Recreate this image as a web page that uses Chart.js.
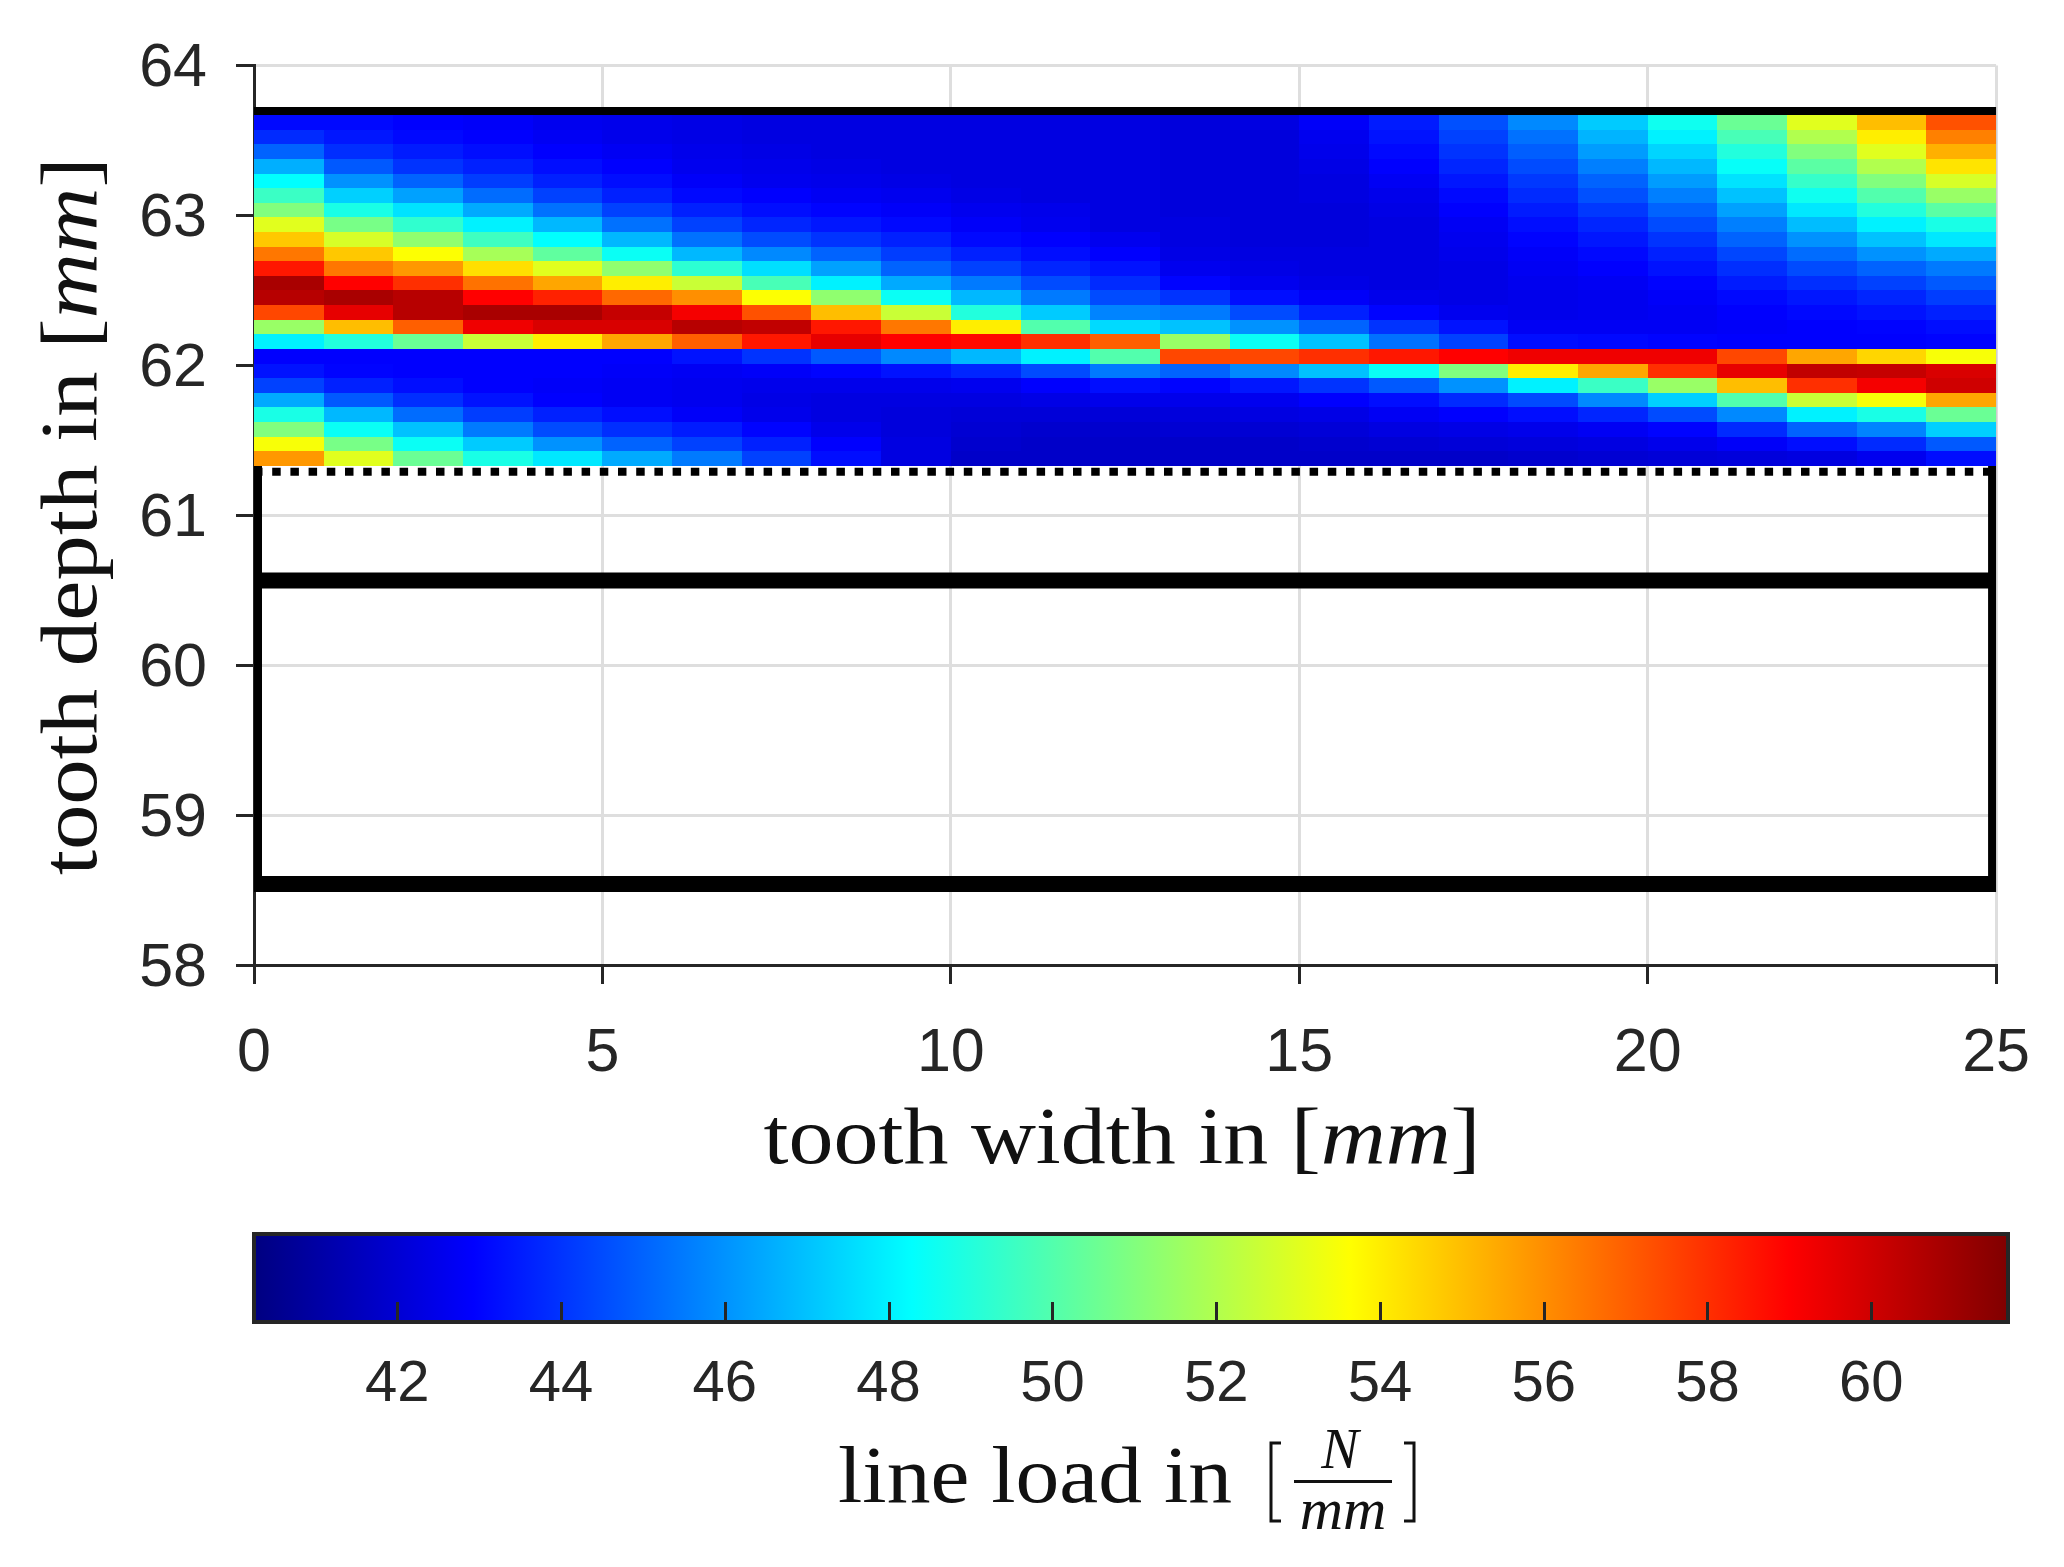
<!DOCTYPE html>
<html><head><meta charset="utf-8">
<script src="https://cdn.jsdelivr.net/npm/chart.js@4.4.1/dist/chart.umd.min.js"></script>
<style>
html,body{margin:0;padding:0;background:#fff;}
#wrap{position:relative;width:2064px;height:1567px;background:#fff;}
#main{position:absolute;left:0;top:0;}
#cbar{position:absolute;left:0;top:1190px;}
</style></head><body>
<div id="wrap">
<canvas id="main" width="2064" height="1190"></canvas>
<canvas id="cbar" width="2064" height="377"></canvas>
</div>
<script>
// ---------- data ----------
const widthCenters = [0.5,1.5,2.5,3.5,4.5,5.5,6.5,7.5,8.5,9.5,10.5,11.5,12.5,13.5,14.5,15.5,16.5,17.5,18.5,19.5,20.5,21.5,22.5,23.5,24.5];
const depthCenters = [63.621,63.524,63.426,63.329,63.231,63.134,63.036,62.939,62.841,62.744,62.646,62.549,62.451,62.354,62.256,62.159,62.061,61.964,61.866,61.769,61.671,61.574,61.476,61.379];
// line load in N/mm, one row per depthCenters entry (top to bottom), one value per widthCenters entry
const lineLoad = [
 [43.1,43.1,42.9,42.8,42.6,42.5,42.4,42.3,42.3,42.3,42.3,42.3,42.3,42.2,42.3,42.8,43.5,44.6,45.8,47.2,48.6,50.5,53.0,55.0,57.3],
 [43.8,43.4,43.1,42.9,42.7,42.5,42.4,42.3,42.3,42.3,42.3,42.3,42.3,42.2,42.2,42.6,43.3,44.3,45.3,46.7,48.0,49.8,52.0,54.0,56.3],
 [45.0,43.9,43.5,43.2,42.9,42.7,42.5,42.4,42.3,42.3,42.3,42.3,42.3,42.2,42.2,42.5,43.1,44.0,44.9,46.2,47.4,49.0,51.0,53.0,55.3],
 [46.6,44.8,44.0,43.6,43.2,42.9,42.6,42.5,42.4,42.3,42.3,42.3,42.3,42.2,42.2,42.4,42.9,43.7,44.5,45.6,46.8,48.4,50.2,52.0,54.2],
 [48.3,46.0,45.0,44.2,43.6,43.2,42.8,42.6,42.5,42.4,42.3,42.3,42.3,42.2,42.2,42.3,42.7,43.4,44.1,45.0,46.2,47.7,49.4,51.0,52.8],
 [49.5,47.3,46.3,45.2,44.3,43.6,43.1,42.9,42.7,42.6,42.4,42.3,42.3,42.2,42.2,42.3,42.5,43.1,43.8,44.6,45.6,47.0,48.6,50.0,51.5],
 [51.0,48.8,47.7,46.5,45.3,44.3,43.6,43.2,43.0,42.8,42.6,42.5,42.3,42.2,42.2,42.2,42.4,42.9,43.5,44.1,45.0,46.3,47.8,49.0,50.2],
 [53.0,50.8,49.3,48.0,46.8,45.3,44.3,43.7,43.4,43.1,42.8,42.6,42.3,42.3,42.2,42.2,42.3,42.7,43.2,43.7,44.5,45.6,46.9,48.0,48.8],
 [54.8,52.8,51.3,49.6,48.3,46.8,45.3,44.5,44.0,43.6,43.1,42.9,42.6,42.3,42.2,42.2,42.3,42.6,43.0,43.4,44.0,45.0,46.0,47.0,47.8],
 [56.5,54.8,53.6,51.8,50.3,48.5,46.8,45.8,45.0,44.2,43.6,43.2,42.9,42.4,42.3,42.3,42.3,42.5,42.8,43.1,43.6,44.4,45.2,46.0,46.5],
 [58.5,56.5,55.8,54.3,53.0,51.3,49.2,47.6,46.3,45.0,44.3,43.7,43.3,42.6,42.4,42.3,42.3,42.4,42.7,42.9,43.3,43.9,44.5,45.0,45.5],
 [60.8,59.0,58.0,56.6,55.5,54.0,52.5,49.8,48.0,46.5,45.5,44.5,43.8,43.0,42.6,42.4,42.3,42.4,42.6,42.7,43.0,43.5,43.9,44.3,44.8],
 [60.5,60.8,60.5,59.0,58.3,56.8,56.0,53.6,51.3,48.5,46.8,45.5,44.5,44.0,43.2,42.8,42.5,42.4,42.5,42.6,42.8,43.1,43.4,43.7,44.2],
 [57.5,59.5,60.5,60.8,60.8,60.2,59.2,57.3,55.0,52.5,49.0,47.2,45.7,45.5,44.5,43.6,43.0,42.6,42.5,42.6,42.7,42.9,43.1,43.3,43.6],
 [51.5,55.0,57.0,59.3,59.8,59.8,60.5,60.3,58.5,56.5,54.0,50.0,47.5,47.0,46.0,45.0,44.0,43.3,42.7,42.7,42.7,42.8,42.9,43.0,43.2],
 [48.0,49.0,50.5,52.5,54.0,55.5,57.0,58.5,59.5,59.0,58.8,58.0,57.0,51.5,48.5,47.0,45.3,44.3,43.2,43.1,43.0,42.9,42.9,42.9,43.0],
 [42.9,42.9,42.9,42.9,42.9,42.9,43.3,44.0,44.8,45.8,46.8,48.0,50.0,57.5,57.5,58.0,58.5,59.0,59.3,59.3,59.3,57.5,55.5,54.5,53.5],
 [43.3,43.0,42.9,42.9,42.9,42.8,42.7,42.8,43.0,43.3,43.7,44.5,45.5,45.0,45.8,47.0,48.5,51.0,54.0,55.5,58.0,59.5,60.3,60.2,59.8],
 [44.3,43.6,43.2,42.9,42.8,42.7,42.6,42.5,42.5,42.5,42.6,42.9,43.2,43.0,43.4,44.0,44.8,46.0,48.0,49.5,51.5,55.0,58.0,59.2,60.0],
 [46.5,44.8,43.9,43.3,42.9,42.7,42.6,42.4,42.3,42.3,42.3,42.4,42.5,42.5,42.6,42.9,43.2,43.8,44.5,45.8,47.3,50.0,52.5,53.5,55.5],
 [48.8,46.8,45.2,44.2,43.6,43.2,42.8,42.5,42.3,42.2,42.1,42.1,42.1,42.2,42.3,42.4,42.7,42.9,43.2,43.7,44.5,45.8,48.0,48.8,50.5],
 [51.0,48.5,47.0,45.5,44.5,43.9,43.5,43.0,42.5,42.2,42.0,41.9,41.9,42.0,42.0,42.1,42.3,42.4,42.5,42.7,43.0,43.8,45.0,45.7,47.3],
 [53.5,50.8,48.5,47.2,46.0,45.0,44.3,43.6,42.9,42.3,41.9,41.8,41.8,41.8,41.8,41.9,42.0,42.1,42.2,42.3,42.5,42.8,43.2,43.8,44.8],
 [55.8,53.0,50.5,48.8,47.8,46.5,45.5,44.3,43.2,42.3,41.8,41.8,41.8,41.8,41.8,41.8,41.8,41.8,41.9,42.0,42.1,42.2,42.3,42.6,43.2]
];
const widthTicks = [0,5,10,15,20,25];
const depthTicks = [58,59,60,61,62,63,64];
const colorTicks = [42,44,46,48,50,52,54,56,58,60];
const colorRange = [40.25,61.67];
// tooth geometry lines (mm)
const outlineWidth = [0,25,25,0,0];
const outlineDepth = [63.67,63.67,58.54,58.54,63.67];
const rootWidth = [0,25];
const rootDepth = [60.565,60.565];
const limitWidth = [0,25];
const limitDepth = [61.29,61.29];

// ---------- helpers ----------
function jet(v){
  let t=(v-colorRange[0])/(colorRange[1]-colorRange[0]);
  t=Math.max(0,Math.min(1,t));
  const c=u=>Math.round(255*Math.max(0,Math.min(1,u)));
  const r=Math.min(4*t-1.5,-4*t+4.5), g=Math.min(4*t-0.5,-4*t+3.5), b=Math.min(4*t+0.5,-4*t+2.5);
  return 'rgb('+c(r)+','+c(g)+','+c(b)+')';
}
function edges(c){
  const e=[c[0]-(c[1]-c[0])/2];
  for(let i=1;i<c.length;i++) e.push((c[i-1]+c[i])/2);
  e.push(c[c.length-1]+(c[c.length-1]-c[c.length-2])/2);
  return e;
}
const SERIF='"Liberation Serif","Times New Roman",serif';
function drawRich(ctx,parts,size,cx,by,targetW){
  const fonts=parts.map(p=>(p.i?'italic ':'')+size+'px '+SERIF);
  let w=0;
  const ws=parts.map((p,k)=>{ctx.font=fonts[k];const m=ctx.measureText(p.t).width;w+=m;return m;});
  const s=targetW?targetW/w:1;
  ctx.save();
  ctx.translate(cx-w*s/2,by);ctx.scale(s,1);
  ctx.textAlign='left';ctx.textBaseline='alphabetic';
  let xx=0;
  parts.forEach((p,k)=>{ctx.font=fonts[k];ctx.fillText(p.t,xx,0);xx+=ws[k];});
  ctx.restore();
}

const heatmapPlugin={
  id:'heatmap',
  afterDatasetsDraw(chart){
    const {ctx,scales:{x,y}}=chart;
    const xe=edges(widthCenters), ye=edges(depthCenters);
    ctx.save();
    for(let r=0;r<depthCenters.length;r++){
      for(let c=0;c<widthCenters.length;c++){
        const xl=Math.round(x.getPixelForValue(xe[c])), xr=Math.round(x.getPixelForValue(xe[c+1]));
        const y0=Math.round(y.getPixelForValue(ye[r])), y1=Math.round(y.getPixelForValue(ye[r+1]));
        ctx.fillStyle=jet(lineLoad[r][c]);
        ctx.fillRect(xl,Math.min(y0,y1),xr-xl,Math.abs(y1-y0));
      }
    }
    ctx.restore();
  },
  afterDraw(chart){
    const {ctx,chartArea:a}=chart;
    ctx.save();
    ctx.fillStyle='#111';
    drawRich(ctx,[{t:'tooth width in '},{t:'['},{t:'mm',i:true},{t:']'}],80,(a.left+a.right)/2-3,a.bottom+198,717);
    ctx.translate(96,(a.top+a.bottom)/2+1);
    ctx.rotate(-Math.PI/2);
    drawRich(ctx,[{t:'tooth depth in '},{t:'['},{t:'mm',i:true},{t:']'}],80,0,0,718);
    ctx.restore();
  }
};

const SANS='"Liberation Sans",Arial,Helvetica,sans-serif';
new Chart(document.getElementById('main'),{
  type:'scatter',
  data:{datasets:[
    {label:'tooth outline',data:outlineWidth.map((v,i)=>({x:v,y:outlineDepth[i]})),showLine:true,borderColor:'#000',borderWidth:16,pointRadius:0,borderJoinStyle:'miter',borderCapStyle:'square',fill:false},
    {label:'root line',data:rootWidth.map((v,i)=>({x:v,y:rootDepth[i]})),showLine:true,borderColor:'#000',borderWidth:16,pointRadius:0,borderCapStyle:'butt',fill:false},
    {label:'active limit',data:limitWidth.map((v,i)=>({x:v,y:limitDepth[i]})),showLine:true,borderColor:'#000',borderWidth:8,pointRadius:0,borderDash:[8.5,9.7],borderCapStyle:'butt',fill:false}
  ]},
  options:{
    responsive:false,animation:false,events:[],
    layout:{padding:{left:0,right:56,top:52.6,bottom:105}},
    plugins:{legend:{display:false},tooltip:{enabled:false}},
    scales:{
      x:{type:'linear',position:'bottom',min:0,max:25,
        afterBuildTicks:s=>{s.ticks=widthTicks.map(v=>({value:v}));},
        afterFit:s=>{s.height=120;},
        ticks:{font:{family:SANS,size:61},color:'#262626',padding:34,maxRotation:0,autoSkip:false},
        grid:{color:'#dedede',lineWidth:3,tickColor:'#262626',tickLength:19,tickWidth:3},
        border:{display:true,color:'#262626',width:3}},
      y:{type:'linear',position:'left',min:58,max:64,
        afterBuildTicks:s=>{s.ticks=depthTicks.map(v=>({value:v}));},
        afterFit:s=>{s.width=254;},
        ticks:{font:{family:SANS,size:61},color:'#262626',padding:29,autoSkip:false,labelOffset:4},
        grid:{color:'#dedede',lineWidth:3,tickColor:'#262626',tickLength:18,tickWidth:3},
        border:{display:true,color:'#262626',width:3}}
    }
  },
  plugins:[heatmapPlugin]
});

const colorbarPlugin={
  id:'colorbar',
  afterDraw(chart){
    const {ctx,chartArea:a,scales:{x}}=chart;
    ctx.save();
    const g=ctx.createLinearGradient(x.getPixelForValue(colorRange[0]),0,x.getPixelForValue(colorRange[1]),0);
    [0,0.125,0.375,0.625,0.875,1].forEach(t=>g.addColorStop(t,jet(colorRange[0]+t*(colorRange[1]-colorRange[0]))));
    ctx.fillStyle=g;
    ctx.fillRect(a.left,a.top,a.right-a.left,a.bottom-a.top);
    ctx.strokeStyle='#262626';ctx.lineWidth=3;
    colorTicks.forEach(v=>{const px=Math.round(x.getPixelForValue(v))+0.5;ctx.beginPath();ctx.moveTo(px,a.bottom);ctx.lineTo(px,a.bottom-20);ctx.stroke();});
    ctx.lineWidth=4;
    ctx.strokeRect(a.left,a.top,a.right-a.left,a.bottom-a.top);
    // label
    ctx.fillStyle='#111';
    drawRich(ctx,[{t:'line load in'}],80,838+197,312,394);
    ctx.strokeStyle='#111';ctx.lineWidth=3;
    ctx.beginPath();ctx.moveTo(1281,253);ctx.lineTo(1271,253);ctx.lineTo(1271,331);ctx.lineTo(1281,331);ctx.stroke();
    ctx.beginPath();ctx.moveTo(1404,253);ctx.lineTo(1414,253);ctx.lineTo(1414,331);ctx.lineTo(1404,331);ctx.stroke();
    ctx.font='italic 56px '+SERIF;ctx.textAlign='center';ctx.textBaseline='alphabetic';
    ctx.fillText('N',1340,278);
    ctx.fillRect(1294,290,98,3);
    ctx.font='italic 60px '+SERIF;
    ctx.fillText('mm',1343,339);
    ctx.restore();
  }
};
new Chart(document.getElementById('cbar'),{
  type:'scatter',
  data:{datasets:[]},
  options:{
    responsive:false,animation:false,events:[],
    layout:{padding:{left:254,right:56,top:44,bottom:135}},
    plugins:{legend:{display:false},tooltip:{enabled:false}},
    scales:{
      x:{type:'linear',position:'bottom',min:colorRange[0],max:colorRange[1],
        afterBuildTicks:s=>{s.ticks=colorTicks.map(v=>({value:v}));},
        afterFit:s=>{s.height=110;},
        ticks:{font:{family:SANS,size:58},color:'#262626',padding:28,maxRotation:0,autoSkip:false},
        grid:{display:false,drawTicks:false},
        border:{display:false}},
      y:{display:false,min:0,max:1}
    }
  },
  plugins:[colorbarPlugin]
});
</script>
</body></html>
